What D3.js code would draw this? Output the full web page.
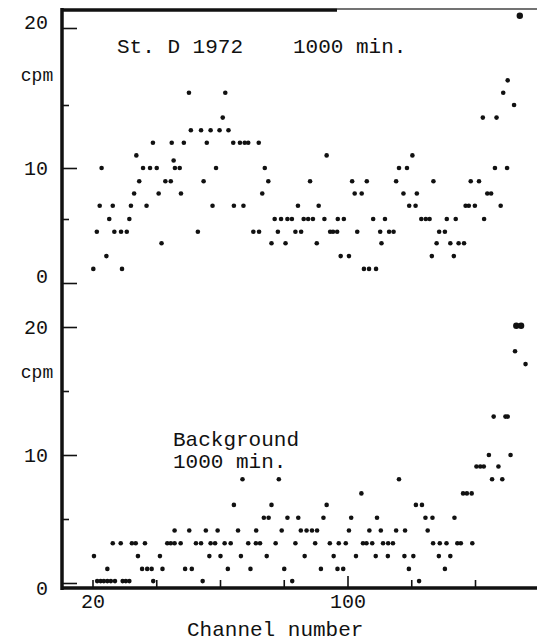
<!DOCTYPE html>
<html>
<head>
<meta charset="utf-8">
<script src="https://cdn.jsdelivr.net/npm/d3@7"></script>
<style>
  body { margin: 0; background: #fff; }
  text { font-family: "Courier New", "Liberation Mono", monospace; fill: #111; }
</style>
</head>
<body>
<svg id="chart" width="537" height="643"></svg>
<script>
// Sample spectrum (St. D 1972, 1000 min.) - channel number and cpm
const sampleChannels = [
  20.1, 21.2, 22.1, 22.7, 24.2, 25.1, 26.2, 26.7, 28.8, 29.1, 30.6, 31.4, 31.9, 32.9, 33.6, 34.5,
  35.7, 36.8, 37.9, 38.8, 40.0, 40.6, 41.5, 42.7, 44.4, 44.7, 45.3, 45.7, 47.2, 47.6, 48.5, 50.1,
  50.7, 52.9, 53.9, 54.7, 55.7, 56.9, 57.5, 58.6, 59.7, 60.7, 61.5, 62.5, 64.0, 64.2, 66.1, 67.2,
  67.6, 68.7, 70.3, 72.0, 72.1, 73.1, 73.9, 75.0, 76.0, 77.0, 78.0, 79.0, 80.4, 81.0, 82.4, 83.5,
  84.3, 85.3, 86.1, 87.5, 88.1, 89.0, 90.2, 90.8, 92.6, 93.3, 94.4, 95.3, 96.6, 96.8, 97.7, 98.7,
  100.3, 101.3, 102.1, 102.9, 104.3, 105.0, 105.9, 106.6, 107.9, 108.8, 110.1, 110.5, 111.6, 112.9, 114.3, 115.1,
  116.0, 117.4, 118.5, 119.2, 120.2, 121.2, 121.6, 123.0, 124.4, 125.6, 126.3, 126.8, 127.8, 128.6, 130.4, 131.0,
  132.1, 133.2, 133.8, 134.7, 136.4, 136.9, 137.9, 138.5, 139.8, 141.1, 142.3, 142.7, 143.7, 144.9, 146.1, 146.6,
  147.9, 148.7, 149.9, 150.1, 152.1, 153.9
];
const sampleCpm = [
  1.1, 4.0, 6.3, 10, 2.1, 5.0, 6.3, 4.0, 4.0, 1.1, 4.0, 5.0, 6.3, 7.5, 11, 8.7,
  10, 6.3, 10, 12, 10, 7.5, 3.1, 8.7, 8.7, 12, 10.6, 10, 10, 7.5, 12, 15.8,
  13, 4.0, 13, 8.7, 12, 13, 6.3, 10, 13, 14, 15.8, 13, 12, 6.3, 12, 6.3,
  12, 12, 4.0, 12, 4.0, 7.5, 10, 8.7, 3.1, 5.0, 4.0, 5.0, 3.1, 5.0, 5.0, 4.0,
  6.3, 4.0, 5.0, 5.0, 8.7, 5.0, 3.1, 6.3, 5.0, 11, 4.0, 4.0, 4.0, 5.0, 2.1, 5.0,
  2.1, 8.7, 7.5, 4.0, 7.5, 1.1, 8.7, 1.1, 5.0, 1.1, 4.0, 3.1, 5.0, 4.0, 4.0, 8.7,
  10, 7.5, 10, 6.3, 11, 6.3, 7.5, 5.0, 5.0, 5.0, 2.1, 8.7, 3.1, 4.0, 4.0, 5.0,
  3.1, 2.1, 5.0, 3.1, 3.1, 6.3, 6.3, 8.7, 6.3, 8.7, 14, 5.0, 7.5, 7.5, 10, 14,
  6.3, 15.8, 10, 16.6, 15, 20.8
];

// Background spectrum (1000 min.)
const bgChannels = [
  20.3, 21.3, 22.4, 23.4, 24.5, 24.5, 25.6, 26.2, 26.9, 28.7, 29.3, 30.3, 31.4, 32.2, 33.4, 34.1,
  35.4, 36.3, 37.0, 38.4, 38.9, 41.0, 41.8, 43.3, 44.4, 45.6, 45.6, 47.5, 48.9, 50.2, 51.0, 52.3,
  53.9, 54.4, 55.4, 56.5, 56.9, 58.3, 59.1, 60.0, 61.3, 62.3, 63.2, 64.2, 65.5, 66.4, 66.9, 68.7,
  69.4, 71.1, 71.2, 72.4, 73.6, 74.5, 75.1, 76.0, 77.3, 78.3, 79.2, 80.0, 81.0, 82.5, 83.5, 84.4,
  85.2, 86.4, 87.0, 88.7, 89.7, 90.3, 91.5, 92.3, 93.3, 94.3, 95.5, 96.7, 97.1, 98.5, 99.3, 100.3,
  101.0, 102.5, 104.2, 104.7, 105.8, 106.7, 107.6, 108.7, 109.1, 110.3, 111.0, 112.5, 112.6, 114.1, 115.1, 116.0,
  117.7, 117.9, 119.1, 120.5, 121.3, 122.3, 123.2, 124.3, 125.0, 126.5, 126.7, 128.5, 128.8, 130.4, 130.9, 132.1,
  133.4, 134.3, 135.4, 136.1, 137.3, 138.8, 139.0, 140.3, 141.5, 142.6, 144.2, 145.2, 145.7, 147.2, 148.4, 149.4,
  150.1, 151.0, 152.4, 152.8, 154.3, 155.7
];
const bgCpm = [
  2.1, 0.15, 0.15, 0.15, 1.1, 0.15, 0.15, 3.1, 0.15, 3.1, 0.15, 0.15, 0.15, 3.1, 3.1, 2.1,
  1.1, 3.1, 1.1, 1.1, 0.15, 2.1, 1.1, 3.1, 3.1, 3.1, 4.1, 3.1, 1.1, 4.1, 1.1, 3.1,
  3.1, 0.15, 4.1, 2.1, 3.1, 3.1, 4.1, 2.1, 3.1, 1.1, 3.1, 6.1, 4.1, 2.1, 8.1, 3.1,
  1.1, 3.1, 4.1, 3.1, 5.1, 2.1, 5.1, 6.1, 3.1, 8.1, 4.1, 1.1, 5.1, 0.15, 3.1, 5.1,
  4.1, 2.1, 4.1, 4.1, 3.1, 4.1, 1.1, 5.1, 6.1, 3.1, 2.1, 1.1, 3.1, 1.1, 3.1, 4.1,
  5.1, 2.1, 7, 3.1, 3.1, 4.1, 3.1, 2.1, 5.1, 4.1, 3.1, 2.1, 3.1, 3.1, 4.1, 8.1,
  2.1, 4.1, 1.1, 2.1, 6.1, 0.15, 6.1, 5.1, 4.1, 5.1, 3.1, 2.1, 3.1, 1.1, 3.1, 2.1,
  5.1, 3.1, 3.1, 7, 7, 7, 3.1, 9.1, 9.1, 9.1, 10, 8.1, 13, 9.1, 8.1, 13,
  13, 10, 18.1, 20.1, 20.1, 17.1
];

const yTicks = [0, 5, 10, 15, 20];
const yTickLabels = ["0", "", "10", "", "20"];
const xTicks = [20, 40, 60, 80, 100, 120, 140];
const xTickLabels = ["20", "", "", "", "100", "", ""];

const svg = d3.select("#chart");
const spineX = 62, axisY = 588, rightEdge = 537;

// Scales (the scanned top axis is not evenly spaced, so follow its ticks)
const x = d3.scaleLinear().domain([20, 100]).range([93, 348]);
const yTop = d3.scaleLinear().domain(yTicks).range([283, 219, 168, 105, 28]);
const yBot = d3.scaleLinear().domain([0, 20]).range([583, 327]);

// Frame: left spine, top edge, bottom axis
svg.append("line")
  .attr("x1", spineX).attr("x2", spineX).attr("y1", 8).attr("y2", axisY + 2)
  .attr("stroke", "#111").attr("stroke-width", 3.5);
svg.append("line")
  .attr("x1", spineX).attr("x2", 337).attr("y1", 10).attr("y2", 10)
  .attr("stroke", "#111").attr("stroke-width", 3.5);
svg.append("line")
  .attr("x1", 337).attr("x2", rightEdge).attr("y1", 9).attr("y2", 9)
  .attr("stroke", "#444").attr("stroke-width", 1.5);
svg.append("line")
  .attr("x1", spineX).attr("x2", rightEdge).attr("y1", axisY).attr("y2", axisY)
  .attr("stroke", "#111").attr("stroke-width", 3.5);

// Y axes; labelShift nudges labels the way they sit in the scan
function drawYAxis(scale, labelShift) {
  const g = svg.append("g")
    .attr("transform", `translate(${spineX},0)`)
    .call(d3.axisRight(scale)
      .tickValues(yTicks)
      .tickFormat("")
      .tickSize(0));
  g.select(".domain").remove();
  g.selectAll(".tick line")
    .attr("x2", (d, i) => yTickLabels[i] ? 15 : 7)
    .attr("stroke", "#111")
    .attr("stroke-width", 1.6);

  svg.append("g").selectAll("text")
    .data(yTicks)
    .enter().append("text")
    .attr("x", 48)
    .attr("y", (d, i) => scale(d) + labelShift[i])
    .attr("dy", "0.35em")
    .style("text-anchor", "end")
    .style("font-size", "20px")
    .text((d, i) => yTickLabels[i]);
}
drawYAxis(yTop, [-7, 0, 0, 0, -6]);
drawYAxis(yBot, [5, 0, 0, 0, 0]);

// X axis ticks (pointing up from the bottom line)
svg.append("g").selectAll("line")
  .data(xTicks)
  .enter().append("line")
  .attr("x1", d => x(d)).attr("x2", d => x(d))
  .attr("y1", axisY).attr("y2", (d, i) => axisY - (xTickLabels[i] === "100" ? 12 : 8))
  .attr("stroke", "#111").attr("stroke-width", 1.6);

svg.append("g").selectAll("text")
  .data(xTicks)
  .enter().append("text")
  .attr("x", d => x(d))
  .attr("y", 608)
  .style("text-anchor", "middle")
  .style("font-size", "20px")
  .text((d, i) => xTickLabels[i]);

// Dots
function drawDots(chs, vals, yScale) {
  svg.append("g").selectAll("circle")
    .data(chs.map((c, i) => ({ ch: c, v: vals[i] })))
    .enter().append("circle")
    .attr("cx", d => x(d.ch))
    .attr("cy", d => yScale(d.v))
    .attr("r", d => d.v > 20 ? 3.2 : 2.3)
    .attr("fill", "#111");
}
drawDots(sampleChannels, sampleCpm, yTop);
drawDots(bgChannels, bgCpm, yBot);

// Labels
const labelSize = "21px";
svg.append("text").attr("x", 117).attr("y", 53).style("font-size", labelSize).text("St. D 1972");
svg.append("text").attr("x", 293).attr("y", 53).style("font-size", labelSize).text("1000 min.");
svg.append("text").attr("x", 37).attr("y", 81).style("text-anchor", "middle").style("font-size", "18px").text("cpm");
svg.append("text").attr("x", 37).attr("y", 378).style("text-anchor", "middle").style("font-size", "18px").text("cpm");
svg.append("text").attr("x", 173).attr("y", 446).style("font-size", labelSize).text("Background");
svg.append("text").attr("x", 173).attr("y", 468).style("font-size", labelSize).text("1000 min.");
svg.append("text").attr("x", 187).attr("y", 636).style("font-size", labelSize).text("Channel number");
</script>
</body>
</html>
